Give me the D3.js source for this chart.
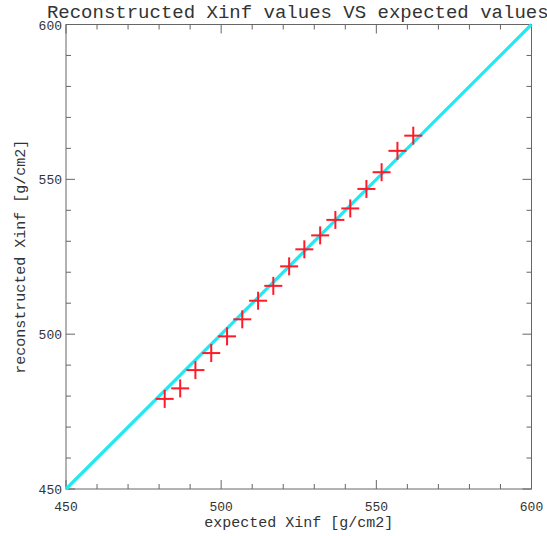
<!DOCTYPE html>
<html><head><meta charset="utf-8">
<script src="https://cdn.jsdelivr.net/npm/d3@7"></script>
<style>body{margin:0;background:#fff}svg{display:block}</style>
</head><body>
<script>
const titleText = "Reconstructed Xinf values VS expected values";
const xLabel = "expected Xinf [g/cm2]";
const yLabel = "reconstructed Xinf [g/cm2]";
const majorTicks = [450, 500, 550, 600];
const expectedX = [481.8, 486.8, 491.7, 496.8, 501.9, 506.8, 511.9, 516.8, 521.9, 526.8, 531.9, 536.8, 541.6, 546.8, 551.7, 556.8, 561.9];
const reconstructedY = [479.1, 482.5, 488.4, 493.9, 499.3, 504.8, 510.8, 515.6, 521.9, 527.4, 531.9, 536.9, 540.6, 546.9, 552.3, 559.2, 564.1];
const diagonal = [450, 600];

const W = 547, H = 536;
const L = 66, R = 531.5, T = 24.5, B = 489;
const font = "'Courier New','Liberation Mono',monospace";
const svg = d3.select("body").append("svg").attr("width", W).attr("height", H);
const x = d3.scaleLinear().domain([450, 600]).range([L, R]);
const y = d3.scaleLinear().domain([450, 600]).range([B, T]);
const minor = d3.range(450, 601, 10);
const frame = "#666";

svg.append("rect").attr("x", L).attr("y", T).attr("width", R - L).attr("height", B - T)
  .attr("fill", "none").attr("stroke", frame).attr("stroke-width", 1);

const g = svg.append("g").attr("stroke", frame).attr("stroke-width", 1);
minor.forEach(v => {
  const len = majorTicks.includes(v) ? 9 : 5;
  g.append("line").attr("x1", x(v)).attr("x2", x(v)).attr("y1", B).attr("y2", B - len);
  g.append("line").attr("x1", x(v)).attr("x2", x(v)).attr("y1", T).attr("y2", T + len);
  g.append("line").attr("y1", y(v)).attr("y2", y(v)).attr("x1", L).attr("x2", L + len);
  g.append("line").attr("y1", y(v)).attr("y2", y(v)).attr("x1", R).attr("x2", R - len);
});

majorTicks.forEach(v => {
  svg.append("text").attr("x", x(v)).attr("y", B + 22).attr("text-anchor", "middle")
    .attr("font-family", font).attr("font-size", 13).attr("fill", "#333").text(v);
  svg.append("text").attr("x", L - 4).attr("y", y(v) + 5).attr("text-anchor", "end")
    .attr("font-family", font).attr("font-size", 13).attr("fill", "#333").text(v);
});

svg.append("line").attr("x1", x(diagonal[0])).attr("y1", y(diagonal[0]))
  .attr("x2", x(diagonal[1])).attr("y2", y(diagonal[1]))
  .attr("stroke", "#22e8f2").attr("stroke-width", 3.2);

const m = svg.append("g").attr("stroke", "#ff1a2a").attr("stroke-width", 2);
expectedX.forEach((v, i) => {
  const cx = x(v), cy = y(reconstructedY[i]), s = 9;
  m.append("line").attr("x1", cx - s).attr("x2", cx + s).attr("y1", cy).attr("y2", cy);
  m.append("line").attr("x1", cx).attr("x2", cx).attr("y1", cy - s).attr("y2", cy + s);
});

svg.append("text").attr("x", (L + R) / 2 - 1).attr("y", 18).attr("text-anchor", "middle")
  .attr("font-family", font).attr("font-size", 19).attr("fill", "#333").text(titleText);
svg.append("text").attr("x", (L + R) / 2).attr("y", 527).attr("text-anchor", "middle")
  .attr("font-family", font).attr("font-size", 15).attr("fill", "#333").text(xLabel);
svg.append("text").attr("transform", `translate(25,${(T + B) / 2}) rotate(-90)`).attr("text-anchor", "middle")
  .attr("font-family", font).attr("font-size", 15).attr("fill", "#333").text(yLabel);
</script>
</body></html>
